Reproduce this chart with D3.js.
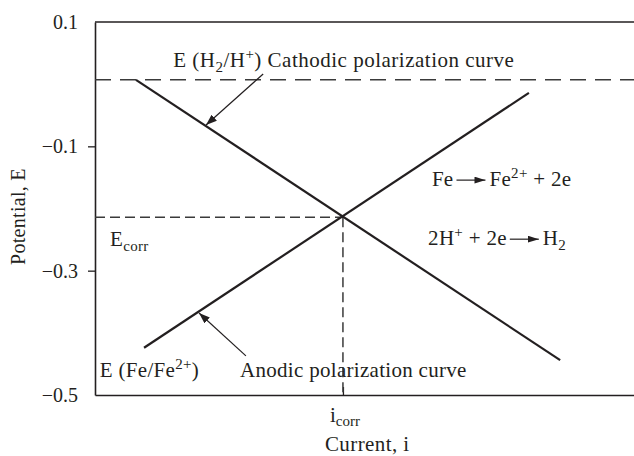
<!DOCTYPE html>
<html>
<head>
<meta charset="utf-8">
<script src="https://cdn.jsdelivr.net/npm/d3@7"></script>
<style>
  body { margin: 0; background: #fff; }
</style>
</head>
<body>
<div id="chart"></div>
<script>
let svgWidth = 634;
let svgHeight = 456;
let margin = { top: 22, right: 0, bottom: 61, left: 95 };
let width = svgWidth - margin.left - margin.right;
let height = svgHeight - margin.top - margin.bottom;

// Data (current is in arbitrary units 0..1, potential in V)
let yTicks = [0.1, -0.1, -0.3, -0.5];
let eH2 = 0.007;
let cathodicI = [0.076, 0.863];
let cathodicE = [0.007, -0.444];
let anodicI = [0.091, 0.805];
let anodicE = [-0.424, -0.014];
let iCorr = 0.46;
let eCorr = -0.214;

// Annotation arrows [i0, E0, i1, E1], head at the second point
let cathodicArrow = [0.312, 0.0164, 0.206, -0.0657];
let anodicArrow = [0.280, -0.437, 0.193, -0.368];

let svg = d3.select("#chart").append("svg").attr("width", svgWidth).attr("height", svgHeight);
let chartGroup = svg.append("g").attr("transform", `translate(${margin.left}, ${margin.top})`);

let x = d3.scaleLinear().domain([0, 1]).range([0, width]);
let y = d3.scaleLinear().domain([-0.5, 0.1]).range([height, 0]);

let ink = "#231f20";
let serif = "'Liberation Serif', 'Times New Roman', serif";

let defs = svg.append("defs");
let addHead = (id, w, h) => {
  defs.append("marker")
    .attr("id", id)
    .attr("markerUnits", "userSpaceOnUse")
    .attr("viewBox", `0 0 ${w} ${h}`)
    .attr("markerWidth", w)
    .attr("markerHeight", h)
    .attr("refX", w)
    .attr("refY", h / 2)
    .attr("orient", "auto")
    .append("path")
    .attr("d", `M0,0 L${w},${h / 2} L0,${h} Z`)
    .attr("fill", ink);
}
addHead("head", 11, 8);
addHead("headSmall", 11, 7);

// Axes
let yAxis = chartGroup.append("g")
  .call(d3.axisLeft(y).tickValues(yTicks).tickSize(7).tickPadding(10).tickSizeOuter(0)
    .tickFormat(d => d3.format(".1f")(d).replace("-", "\u2013")));
yAxis.select(".domain").attr("stroke", ink).attr("stroke-width", 1.6);
yAxis.selectAll(".tick line").attr("stroke", ink).attr("stroke-width", 1.3)
  .filter(d => d === 0.1 || d === -0.5).remove();
yAxis.selectAll(".tick text").attr("font-size", 20).style("font-family", serif).attr("fill", ink);

let xAxis = chartGroup.append("g")
  .attr("transform", `translate(0, ${height})`)
  .call(d3.axisBottom(x).tickValues([iCorr]).tickSizeInner(-8).tickSizeOuter(0).tickFormat(""));
xAxis.select(".domain").attr("stroke", ink).attr("stroke-width", 1.6);
xAxis.selectAll(".tick line").attr("stroke", ink).attr("stroke-width", 1.3);

// top border
chartGroup.append("line")
  .attr("x1", x(0)).attr("x2", x(1))
  .attr("y1", y(0.1)).attr("y2", y(0.1))
  .attr("stroke", ink).attr("stroke-width", 1.6);

let txt = (sel) => sel.append("text").style("font-family", serif).attr("fill", ink).attr("font-size", 21);

// i_corr tick label
let iLabel = txt(chartGroup)
  .attr("x", x(iCorr) + 2)
  .attr("y", height + 27)
  .attr("text-anchor", "middle");
iLabel.append("tspan").text("i");
iLabel.append("tspan").attr("font-size", 15).attr("dy", 4).text("corr");

// Axis titles
txt(chartGroup)
  .attr("transform", `translate(${25 - margin.left}, ${y(-0.213)}) rotate(-90)`)
  .attr("text-anchor", "middle")
  .attr("font-size", 20)
  .attr("letter-spacing", 0.3)
  .text("Potential, E");

txt(chartGroup)
  .attr("x", x(0.505))
  .attr("y", height + 56)
  .attr("text-anchor", "middle")
  .attr("letter-spacing", 0.4)
  .text("Current, i");

// Dashed reference lines
chartGroup.append("line")
  .attr("x1", x(0)).attr("x2", x(1))
  .attr("y1", y(eH2)).attr("y2", y(eH2))
  .attr("stroke", "#3a3a3a").attr("stroke-width", 1.5)
  .attr("stroke-dasharray", "16,9");

chartGroup.append("line")
  .attr("x1", x(0)).attr("x2", x(iCorr))
  .attr("y1", y(eCorr)).attr("y2", y(eCorr))
  .attr("stroke", "#3a3a3a").attr("stroke-width", 1.5)
  .attr("stroke-dasharray", "10,5");

chartGroup.append("line")
  .attr("x1", x(iCorr)).attr("x2", x(iCorr))
  .attr("y1", y(eCorr)).attr("y2", y(-0.5))
  .attr("stroke", "#3a3a3a").attr("stroke-width", 1.5)
  .attr("stroke-dasharray", "10,5");

// Polarization curves
let line = d3.line().x(d => x(d[0])).y(d => y(d[1]));
chartGroup.append("path")
  .attr("d", line(d3.zip(cathodicI, cathodicE)))
  .attr("fill", "none").attr("stroke", ink).attr("stroke-width", 2.2);
chartGroup.append("path")
  .attr("d", line(d3.zip(anodicI, anodicE)))
  .attr("fill", "none").attr("stroke", ink).attr("stroke-width", 2.2);

// Annotation arrows
[cathodicArrow, anodicArrow].forEach(a => {
  chartGroup.append("line")
    .attr("x1", x(a[0])).attr("y1", y(a[1]))
    .attr("x2", x(a[2])).attr("y2", y(a[3]))
    .attr("stroke", ink).attr("stroke-width", 1.2)
    .attr("marker-end", "url(#head)");
});

// Labels; parts are [text, kind, dy]
let fillParts = (t, parts) => {
  parts.forEach(p => {
    let s = t.append("tspan").text(p[0]);
    if (p[1] === "sub") s.attr("font-size", 15).attr("dy", 5);
    if (p[1] === "sup") s.attr("font-size", 15).attr("dy", -8);
    if (p[1] === "back") s.attr("dy", p[2]);
  });
}

let addLabel = (i, e, parts, ls) => {
  let t = txt(chartGroup)
    .attr("x", x(i)).attr("y", y(e))
    .attr("letter-spacing", ls);
  fillParts(t, parts);
  return t;
}

addLabel(0.145, 0.0276, [["E (H"], ["2", "sub"], ["/H", "back", -5], ["+", "sup"], [") Cathodic polarization curve", "back", 8]], 0.5);
addLabel(0.028, -0.260, [["E"], ["corr", "sub"]], 0.3);
addLabel(0.009, -0.471, [["E (Fe/Fe"], ["2+", "sup"], [")", "back", 8]], 0.3);
addLabel(0.269, -0.471, [["Anodic polarization curve"]], 0.3);

// Reaction equations with drawn arrows
let addReaction = (i, e, left, right) => {
  let g = chartGroup.append("g").attr("transform", `translate(${x(i)}, ${y(e)})`);
  let t1 = txt(g).attr("letter-spacing", 0.3);
  fillParts(t1, left);
  let w1 = t1.node().getComputedTextLength();
  let ax0 = w1 + 3;
  let ax1 = ax0 + 29;
  g.append("line")
    .attr("x1", ax0).attr("x2", ax1)
    .attr("y1", -6).attr("y2", -6)
    .attr("stroke", ink).attr("stroke-width", 1.2)
    .attr("marker-end", "url(#headSmall)");
  let t2 = txt(g).attr("x", ax1 + 4).attr("letter-spacing", 0.3);
  fillParts(t2, right);
}

addReaction(0.625, -0.164, [["Fe"]], [["Fe"], ["2+", "sup"], [" + 2e", "back", 8]]);
addReaction(0.618, -0.259, [["2H"], ["+", "sup"], [" + 2e", "back", 8]], [["H"], ["2", "sub"]]);
</script>
</body>
</html>
